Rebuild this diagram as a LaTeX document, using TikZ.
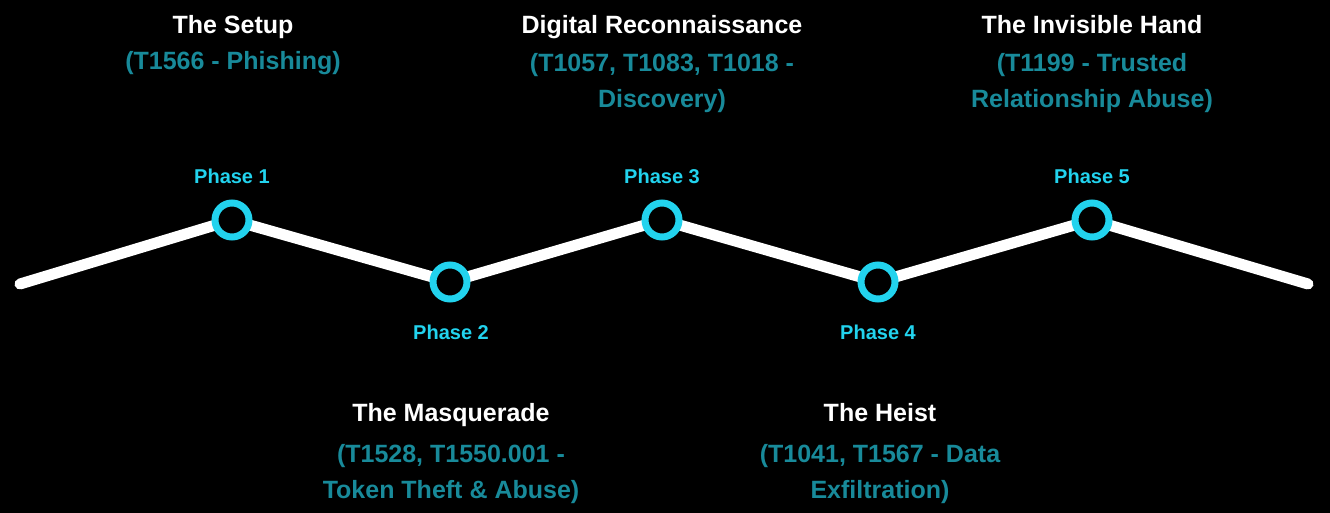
\documentclass[tikz,border=0pt]{standalone}
\usepackage{fontspec}
\setmainfont{Liberation Sans}
\usepackage{xcolor}
\definecolor{PhaseCyan}{RGB}{34,211,238}
\definecolor{TechTeal}{RGB}{24,138,154}
\usetikzlibrary{backgrounds}
\tikzset{
  % Timeline path
  trail/.style={draw=white, line width=11pt, line cap=round, line join=round},
  % Phase marker on the path
  phasedot/.style={
    circle, draw=PhaseCyan, line width=7pt,
    fill=black, minimum size=34pt, inner sep=0pt
  },
  % Texts (multi-line nodes sit on their last baseline)
  phaselabel/.style={font=\fontsize{20}{24}\selectfont\bfseries, text=PhaseCyan, anchor=base, inner sep=0pt},
  phasetitle/.style={font=\fontsize{25}{36}\selectfont\bfseries, text=white, anchor=base, inner sep=0pt},
  phasetech/.style={font=\fontsize{25}{36}\selectfont\bfseries, text=TechTeal, anchor=base, align=center, inner sep=0pt},
}

\begin{document}
\begin{tikzpicture}[x=1pt, y=-1pt]
  \coordinate (start) at (20,284);
  \coordinate (finish) at (1308,284);
  \node[phasedot] (p1) at (232,220) {};
  \node[phasedot] (p2) at (450,282) {};
  \node[phasedot] (p3) at (662,220) {};
  \node[phasedot] (p4) at (878,282) {};
  \node[phasedot] (p5) at (1092,220) {};

  \begin{scope}[on background layer]
    \fill[black] (0,0) rectangle (1330,513);
    \draw[trail] (start) -- (p1.center) -- (p2.center) -- (p3.center)
      -- (p4.center) -- (p5.center) -- (finish);
  \end{scope}

  % phase labels
  \node[phaselabel] (l1) at (232,184) {Phase 1};
  \node[phaselabel] (l2) at (451,339) {Phase 2};
  \node[phaselabel] (l3) at (662,184) {Phase 3};
  \node[phaselabel] (l4) at (878,339) {Phase 4};
  \node[phaselabel] (l5) at (1092,184) {Phase 5};

  % above the line
  \node[phasetitle] (t1) at (233,34) {The Setup};
  \node[phasetech] (d1) at (233,70) {(T1566 - Phishing)};
  \node[phasetitle] (t3) at (662,34) {Digital Reconnaissance};
  \node[phasetech] (d3) at (662,108) {(T1057, T1083, T1018 -\\Discovery)};
  \node[phasetitle] (t5) at (1092,34) {The Invisible Hand};
  \node[phasetech] (d5) at (1092,108) {(T1199 - Trusted\\Relationship Abuse)};

  % below the line
  \node[phasetitle] (t2) at (451,421) {The Masquerade};
  \node[phasetech] (d2) at (451,498) {(T1528, T1550.001 -\\Token Theft \& Abuse)};
  \node[phasetitle] (t4) at (880,421) {The Heist};
  \node[phasetech] (d4) at (880,498) {(T1041, T1567 - Data\\Exfiltration)};
\end{tikzpicture}
\end{document}
